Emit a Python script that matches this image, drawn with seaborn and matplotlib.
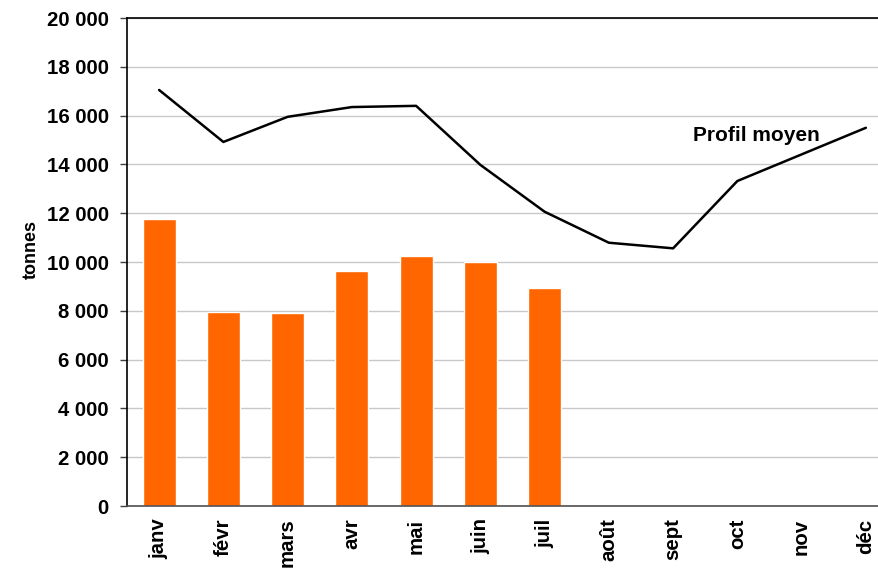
import numpy as np
import pandas as pd
import matplotlib
matplotlib.use("Agg")
import matplotlib.pyplot as plt
from matplotlib.ticker import FuncFormatter, MultipleLocator
import seaborn as sns

# Monthly tonnages for the current year and the average profile
mois = ["janv", "févr", "mars", "avr", "mai", "juin", "juil",
        "août", "sept", "oct", "nov", "déc"]
tonnes_annee = [11760, 7950, 7910, 9630, 10250, 10000, 8930]
profil_moyen = [17050, 14920, 15950, 16350, 16400, 13980, 12060,
                10790, 10560, 13320, 14410, 15500]

sns.set_theme(style="white")
plt.rcParams["font.family"] = ["Liberation Sans", "DejaVu Sans"]
plt.rcParams["font.weight"] = "bold"
plt.rcParams["text.color"] = "black"
plt.rcParams["xtick.color"] = "black"
plt.rcParams["ytick.color"] = "black"
plt.rcParams["axes.labelcolor"] = "black"

fig = plt.figure(figsize=(8.79, 5.69), dpi=100)
ax = fig.add_axes([127 / 879, 1 - 506 / 569, 771 / 879, 488 / 569])

df_bars = pd.DataFrame({"mois": mois[:len(tonnes_annee)], "tonnes": tonnes_annee})
sns.barplot(data=df_bars, x="mois", y="tonnes", order=mois, color="#FF6600",
            saturation=1, width=0.51, ax=ax, zorder=2)

df_line = pd.DataFrame({"pos": np.arange(len(mois)), "profil": profil_moyen})
sns.lineplot(data=df_line, x="pos", y="profil", color="black", linewidth=1.8,
             ax=ax, zorder=3)

ax.text(8.31, 15200, "Profil moyen", fontsize=15, fontweight="bold",
        ha="left", va="center", color="black")

ax.set_xlim(-0.5, 11.5)
ax.set_ylim(0, 20000)
ax.yaxis.set_major_locator(MultipleLocator(2000))
ax.yaxis.set_major_formatter(FuncFormatter(lambda v, p: f"{v:,.0f}".replace(",", " ")))
ax.set_xticks(np.arange(len(mois)))
ax.set_xticklabels(mois, rotation=90, fontsize=14.7, fontweight="bold")
ax.tick_params(axis="x", length=0, pad=9)
ax.tick_params(axis="y", length=5, width=1, color="#404040", pad=8,
               labelsize=14.7, left=True)
for lab in ax.get_yticklabels():
    lab.set_fontweight("bold")

ax.grid(axis="y", color="#c8c8c8", linewidth=1, zorder=0)
ax.set_axisbelow(True)
ax.set_xlabel("")
ax.set_ylabel("tonnes", fontsize=13, fontweight="bold")
ax.yaxis.set_label_coords(-0.113, 0.525)

for side in ["left", "top"]:
    ax.spines[side].set_visible(True)
    ax.spines[side].set_color("black")
    ax.spines[side].set_linewidth(1.2)
ax.spines["bottom"].set_color("#505050")
ax.spines["bottom"].set_linewidth(1.2)
ax.spines["right"].set_visible(False)

fig.savefig("out.png", dpi=100)
